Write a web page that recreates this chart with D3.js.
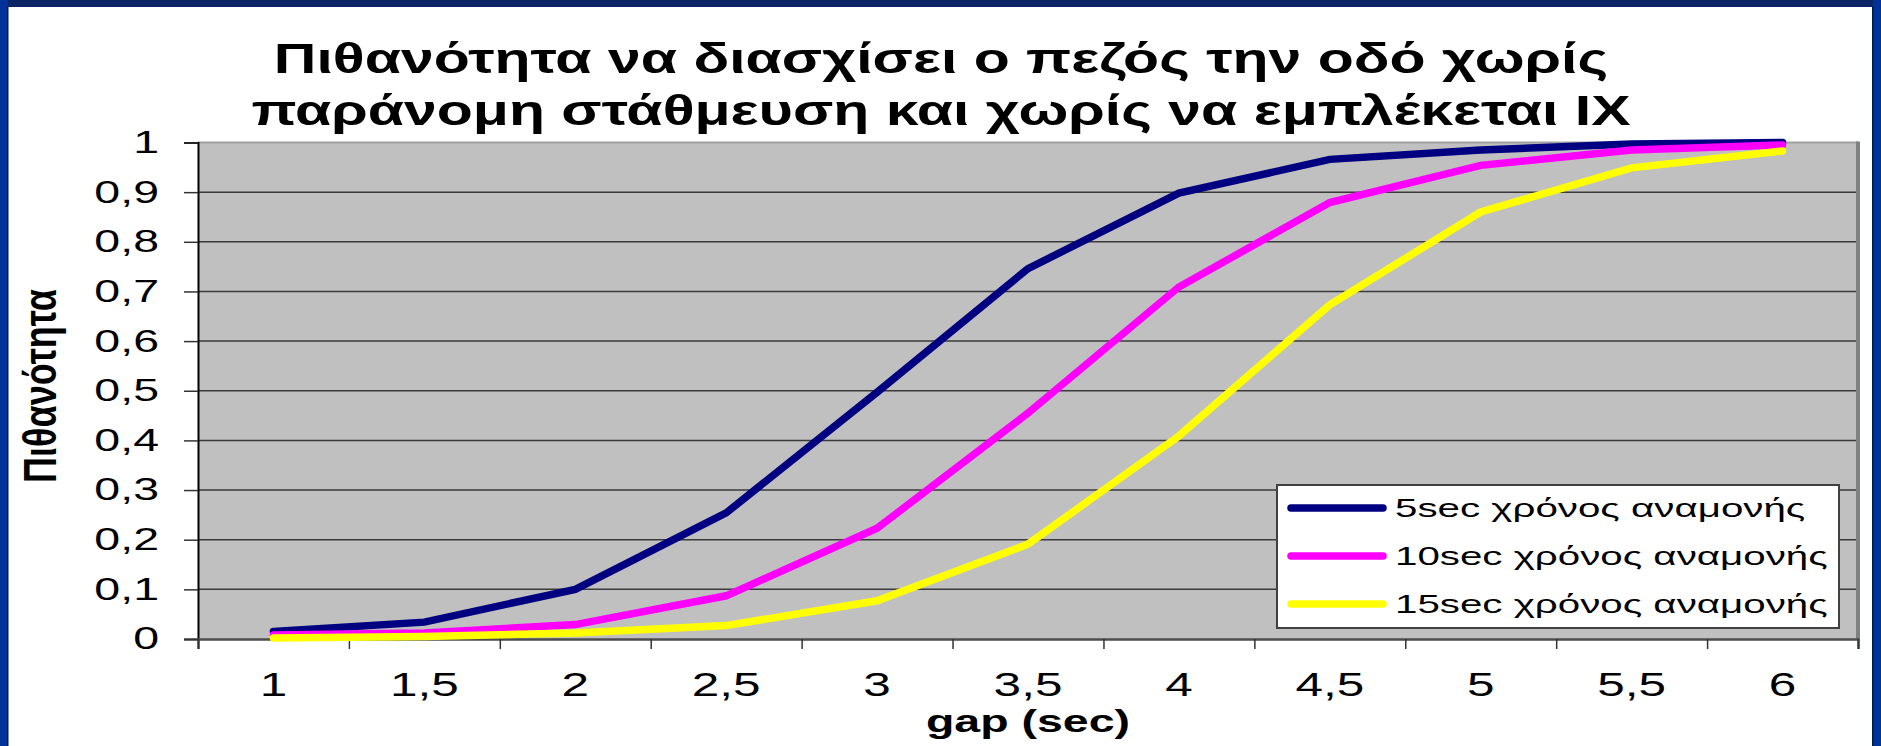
<html>
<head>
<meta charset="utf-8">
<style>
  body { margin: 0; background: #ffffff; }
  svg { display: block; font-family: "Liberation Sans", Arial, sans-serif; }
</style>
</head>
<body>
<svg id="chart" width="1881" height="746"></svg>

<script src="https://d3js.org/d3.v7.min.js"></script>
<script>

// data
var gaps = ["1", "1,5", "2", "2,5", "3", "3,5", "4", "4,5", "5", "5,5", "6"]
var wait5 = [0.015, 0.034, 0.10, 0.254, 0.497, 0.746, 0.898, 0.966, 0.985, 0.997, 1.0]
var wait10 = [0.008, 0.012, 0.029, 0.087, 0.223, 0.455, 0.709, 0.879, 0.954, 0.985, 0.995]
var wait15 = [0.002, 0.005, 0.012, 0.027, 0.077, 0.191, 0.409, 0.673, 0.86, 0.949, 0.983]
var seriesNames = ["5sec χρόνος αναμονής", "10sec χρόνος αναμονής", "15sec χρόνος αναμονής"]
var seriesColours = ["#000080", "#ff00ff", "#ffff00"]
var yTickValues = [0, 0.1, 0.2, 0.3, 0.4, 0.5, 0.6, 0.7, 0.8, 0.9, 1]
var titleLines = ["Πιθανότητα να διασχίσει ο πεζός την οδό χωρίς",
                  "παράνομη στάθμευση και χωρίς να εμπλέκεται ΙΧ"]

var series = [wait5, wait10, wait15]

var svg = d3.select("#chart")
var stretch = 1.5   // the original picture is squashed wide, text too

// slide frame: blue bars top / left / right
svg.append("rect").attr("x", 0).attr("y", 0).attr("width", 1881).attr("height", 7).attr("fill", "#0b2466")
svg.append("rect").attr("x", 0).attr("y", 0).attr("width", 8).attr("height", 746).attr("fill", "#003399")
svg.append("rect").attr("x", 7).attr("y", 7).attr("width", 1.5).attr("height", 739).attr("fill", "#001a4d")
svg.append("rect").attr("x", 1873).attr("y", 0).attr("width", 8).attr("height", 746).attr("fill", "#003399")
svg.append("rect").attr("x", 1872).attr("y", 7).attr("width", 1.5).attr("height", 739).attr("fill", "#001a4d")

// scales
var x = d3.scaleBand()
  .domain(gaps)
  .range([198, 1858])

var xEdges = d3.scaleLinear()     // for the tick marks between categories
  .domain([0, gaps.length])
  .range([198, 1858])

var y = d3.scaleLinear()
  .domain([0, 1])
  .range([639, 142.5])

// plot area
svg.append("rect")
  .attr("x", x.range()[0])
  .attr("y", y(1))
  .attr("width", x.range()[1] - x.range()[0])
  .attr("height", y(0) - y(1))
  .attr("fill", "#c0c0c0")

// gridlines
svg.append("g")
  .selectAll("line")
  .data(yTickValues.filter(function(d) { return d > 0 && d < 1 }))
  .enter()
  .append("line")
    .attr("x1", x.range()[0])
    .attr("x2", x.range()[1])
    .attr("y1", function(d) { return y(d) })
    .attr("y2", function(d) { return y(d) })
    .attr("stroke", "#3a3a3a")
    .attr("stroke-width", 1.5)

// top + right border of plot (grey, like a shadow)
svg.append("line")
  .attr("x1", x.range()[0]).attr("x2", x.range()[1])
  .attr("y1", y(1)).attr("y2", y(1))
  .attr("stroke", "#a0a0a0").attr("stroke-width", 2)
svg.append("line")
  .attr("x1", x.range()[1]).attr("x2", x.range()[1])
  .attr("y1", y(1) - 1).attr("y2", y(0))
  .attr("stroke", "#808080").attr("stroke-width", 4)

function fmt(d) { return String(d).replace(".", ",") }

// stretch axis labels horizontally around their own x
function stretchText(sel) {
  sel.each(function() {
    var t = d3.select(this)
    var x0 = +t.attr("x") || 0
    t.attr("x", 0).attr("transform", "translate(" + x0 + ",0) scale(" + stretch + ",1)")
  })
}

// y axis
var yAxis = svg.append("g")
  .attr("transform", "translate(" + x.range()[0] + ",0)")
  .call(d3.axisLeft(y).tickValues(yTickValues).tickSize(14).tickPadding(25).tickFormat(fmt))
yAxis.select(".domain").attr("stroke", "#000").attr("stroke-width", 2)
yAxis.selectAll(".tick line").attr("stroke", "#333").attr("stroke-width", 1.5)
yAxis.selectAll("text")
  .attr("font-size", 31)
  .attr("font-family", "Liberation Sans, Arial, sans-serif")
  .attr("fill", "#000")
  .call(stretchText)

// x axis: tick marks at category edges, labels in the middle
var xTicks = svg.append("g")
  .attr("transform", "translate(0," + y(0) + ")")
  .call(d3.axisBottom(xEdges).tickValues(d3.range(0, gaps.length + 1)).tickSize(10).tickFormat(""))
xTicks.select(".domain").attr("stroke", "#4d4d4d").attr("stroke-width", 2.5)
xTicks.selectAll(".tick line").attr("stroke", "#333").attr("stroke-width", 1.5)

var xLabels = svg.append("g")
  .attr("transform", "translate(0," + y(0) + ")")
  .call(d3.axisBottom(x).tickSize(0).tickPadding(34))
xLabels.select(".domain").remove()
xLabels.selectAll("text")
  .attr("font-size", 33)
  .attr("font-family", "Liberation Sans, Arial, sans-serif")
  .attr("fill", "#000")
  .call(stretchText)

// lines
var line = d3.line()
  .x(function(d, i) { return x(gaps[i]) + x.bandwidth() / 2 })
  .y(function(d) { return y(d) })

svg.append("g")
  .selectAll("path")
  .data(series)
  .enter()
  .append("path")
    .attr("d", function(d) { return line(d) })
    .attr("fill", "none")
    .attr("stroke", function(d, i) { return seriesColours[i] })
    .attr("stroke-width", 7.5)
    .attr("stroke-linecap", "round")
    .attr("stroke-linejoin", "miter")

// titles
var title = svg.append("g")
title.selectAll("text")
  .data(titleLines)
  .enter()
  .append("text")
    .attr("transform", function(d, i) { return "translate(941," + (73 + i * 52) + ") scale(1.405,1)" })
    .attr("text-anchor", "middle")
    .attr("font-size", 42)
    .attr("font-weight", "bold")
    .attr("fill", "#000")
    .text(function(d) { return d })

svg.append("text")
  .attr("transform", "translate(" + ((x.range()[0] + x.range()[1]) / 2) + ",732) scale(" + stretch + ",1)")
  .attr("text-anchor", "middle")
  .attr("font-size", 31)
  .attr("font-weight", "bold")
  .text("gap (sec)")

svg.append("text")
  .attr("transform", "translate(56,386) scale(1.29,1) rotate(-90)")
  .attr("text-anchor", "middle")
  .attr("font-size", 36)
  .attr("font-weight", "bold")
  .text("Πιθανότητα")

// legend
var legend = svg.append("g").attr("transform", "translate(1277,485)")
legend.append("rect")
  .attr("width", 562)
  .attr("height", 143)
  .attr("fill", "#fff")
  .attr("stroke", "#404040")
  .attr("stroke-width", 2)

var entry = legend.selectAll("g.entry")
  .data(seriesNames)
  .enter()
  .append("g")
    .attr("class", "entry")
    .attr("transform", function(d, i) { return "translate(0," + (23 + i * 48) + ")" })

entry.append("line")
  .attr("x1", 14).attr("x2", 106)
  .attr("stroke", function(d, i) { return seriesColours[i] })
  .attr("stroke-width", 7.5)
  .attr("stroke-linecap", "round")

entry.append("text")
  .attr("transform", "translate(118,0) scale(1.55,1)")
  .attr("dy", "0.35em")
  .attr("font-size", 26)
  .attr("fill", "#000")
  .text(function(d) { return d })

</script>
</body>
</html>
